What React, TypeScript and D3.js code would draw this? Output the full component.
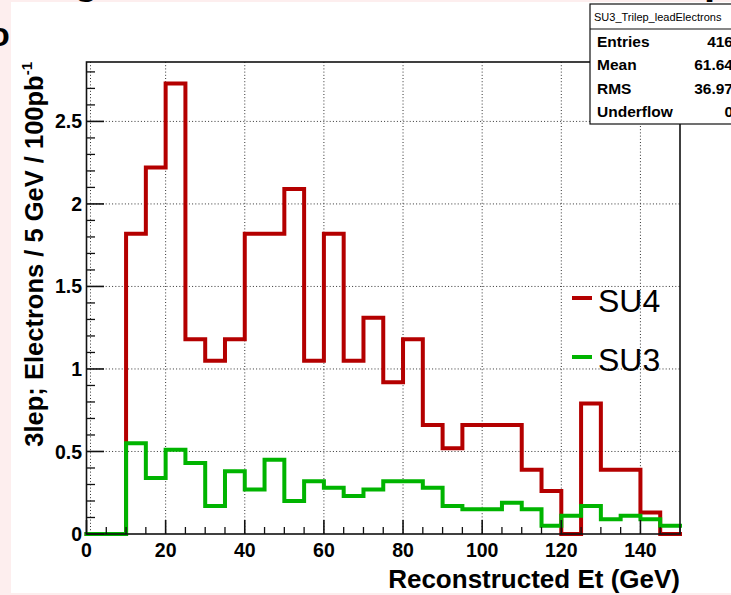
import React from "react";
import * as d3 from "d3";

const binEdges: number[] = d3.range(0, 151, 5);
const su4Values: number[] = [
  0, 0, 1.82, 2.22, 2.73, 1.18, 1.05, 1.18, 1.82, 1.82,
  2.09, 1.05, 1.82, 1.05, 1.31, 0.92, 1.18, 0.66, 0.52, 0.66,
  0.66, 0.66, 0.39, 0.26, 0, 0.79, 0.39, 0.39, 0.13, 0,
];
const su3Values: number[] = [
  0, 0, 0.55, 0.34, 0.51, 0.43, 0.17, 0.38, 0.27, 0.45,
  0.2, 0.32, 0.28, 0.23, 0.27, 0.32, 0.32, 0.28, 0.17, 0.15,
  0.15, 0.19, 0.15, 0.05, 0.11, 0.17, 0.09, 0.11, 0.09, 0.05,
];
const xTicks: number[] = [0, 20, 40, 60, 80, 100, 120, 140];
const yTicks: number[] = [0, 0.5, 1, 1.5, 2, 2.5];
const statsLabels: string[] = ["Entries", "Mean", "RMS", "Underflow"];
const statsValues: string[] = ["416", "61.64", "36.97", "0"];
const legendNames: string[] = ["SU4", "SU3"];

const W = 731;
const H = 595;
const RED = "#b40000";
const GREEN = "#00b400";

export default function App() {
  const x = d3.scaleLinear().domain([0, 150]).range([86.5, 680]);
  const y = d3.scaleLinear().domain([0, 2.86]).range([534, 62]);

  const stepPath = (vals: number[]) => {
    const pts: [number, number][] = [];
    vals.forEach((v, i) => {
      pts.push([x(binEdges[i]), y(v)]);
      pts.push([x(binEdges[i + 1]), y(v)]);
    });
    return d3.line()(pts) || "";
  };

  const xMinor = d3.range(0, 151, 5).filter((v) => v % 20 !== 0);
  const yMinor = d3.range(0, 28.6, 1).map((v) => v / 10).filter((v) => Math.round(v * 10) % 5 !== 0);

  const font = "'Liberation Sans', Arial, Helvetica, sans-serif";

  return (
    <svg width={W} height={H} style={{ position: "absolute", left: 0, top: 0, fontFamily: font }}>
      <rect x={0} y={0} width={W} height={H} fill="#fdeeee" />
      <rect x={11} y={2} width={W - 11} height={591} fill="#ffffff" />
      {/* cut-off slide text fragments */}
      <text x={-11} y={46} fontSize={34} fontWeight="bold" fill="#000">o</text>
      <text x={74} y={-6} fontSize={40} fontWeight="bold" fill="#000">g</text>
      <text x={704} y={-6} fontSize={40} fontWeight="bold" fill="#000">p</text>

      {/* grid */}
      {xTicks.map((t) => (
        <line key={"gx" + t} x1={x(t) + (t === 0 ? 4 : 0)} x2={x(t) + (t === 0 ? 4 : 0)} y1={62} y2={534}
          stroke="#333" strokeWidth={1} strokeDasharray="1 2.2" />
      ))}
      {yTicks.filter((t) => t > 0).map((t) => (
        <line key={"gy" + t} x1={86.5} x2={680} y1={y(t)} y2={y(t)}
          stroke="#333" strokeWidth={1} strokeDasharray="1 2.2" />
      ))}

      {/* histograms */}
      <path d={stepPath(su4Values)} fill="none" stroke={RED} strokeWidth={4} strokeLinejoin="miter" strokeLinecap="square" />
      <path d={stepPath(su3Values)} fill="none" stroke={GREEN} strokeWidth={4} strokeLinejoin="miter" strokeLinecap="square" />

      {/* frame */}
      <rect x={86.5} y={62} width={680 - 86.5} height={534 - 62} fill="none" stroke="#111" strokeWidth={1.6} />

      {/* y ticks */}
      {yTicks.map((t) => (
        <line key={"yt" + t} x1={86.5} x2={104} y1={y(t)} y2={y(t)} stroke="#111" strokeWidth={1.6} />
      ))}
      {yMinor.map((t) => (
        <line key={"ym" + t} x1={86.5} x2={95} y1={y(t)} y2={y(t)} stroke="#111" strokeWidth={1.3} />
      ))}
      {yTicks.map((t) => (
        <text key={"yl" + t} x={82} y={y(t)} dy="0.36em" textAnchor="end" fontSize={19.5} fontWeight="bold" fill="#000">
          {d3.format("~g")(t)}
        </text>
      ))}

      {/* x ticks */}
      {xTicks.map((t) => (
        <line key={"xt" + t} x1={x(t)} x2={x(t)} y1={534} y2={520} stroke="#111" strokeWidth={1.6} />
      ))}
      {xMinor.map((t) => (
        <line key={"xm" + t} x1={x(t)} x2={x(t)} y1={534} y2={527} stroke="#111" strokeWidth={1.3} />
      ))}
      {xTicks.map((t) => (
        <text key={"xl" + t} x={x(t)} y={557} textAnchor="middle" fontSize={19.5} fontWeight="bold" fill="#000">
          {t}
        </text>
      ))}

      {/* axis titles */}
      <text x={680} y={588} textAnchor="end" fontSize={26} fontWeight="bold" fill="#000">
        Reconstructed Et (GeV)
      </text>
      <text transform="translate(43,62) rotate(-90)" textAnchor="end" fontSize={25.5} fontWeight="bold" fill="#000">
        3lep; Electrons / 5 GeV / 100pb
        <tspan fontSize={15} dy={-11}>-1</tspan>
      </text>

      {/* legend */}
      {legendNames.map((name, i) => {
        const ly = i === 0 ? 298 : 357;
        return (
          <g key={name}>
            <line x1={572} x2={592} y1={ly} y2={ly} stroke={i === 0 ? RED : GREEN} strokeWidth={4} />
            <text x={598} y={ly + 14} fontSize={32} fill="#000">{name}</text>
          </g>
        );
      })}

      {/* stats box */}
      <rect x={590} y={4} width={160} height={120} fill="#fff" stroke="#111" strokeWidth={1.2} />
      <line x1={590} x2={750} y1={29} y2={29} stroke="#111" strokeWidth={1.2} />
      <text x={594} y={21} fontSize={11} fill="#000">SU3_Trilep_leadElectrons</text>
      {statsLabels.map((lab, i) => (
        <g key={lab}>
          <text x={597} y={47 + i * 23.4} fontSize={15.5} fontWeight="bold" fill="#000">{lab}</text>
          <text x={733} y={47 + i * 23.4} textAnchor="end" fontSize={15.5} fontWeight="bold" fill="#000">{statsValues[i]}</text>
        </g>
      ))}
    </svg>
  );
}
